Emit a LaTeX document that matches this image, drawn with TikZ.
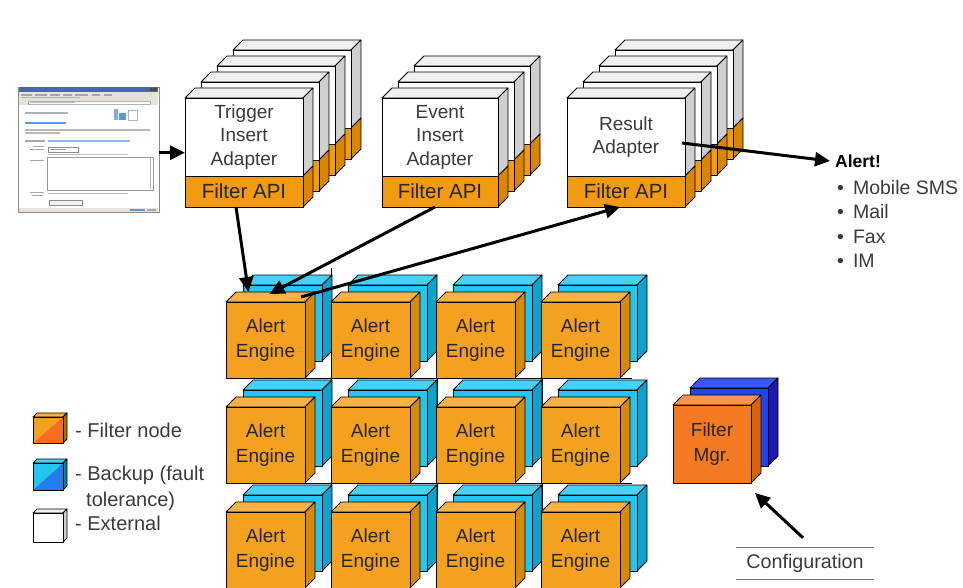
\documentclass[tikz,border=0pt]{standalone}
\usepackage{fontspec}
\setmainfont{Liberation Sans}
\usetikzlibrary{arrows.meta}

% palette
\definecolor{enfront}{HTML}{F4A11F}
\definecolor{entop}{HTML}{F7B245}
\definecolor{enside}{HTML}{D8890C}
\definecolor{bufront}{HTML}{22C6F0}
\definecolor{butop}{HTML}{45D2F6}
\definecolor{buside}{HTML}{0FA2CC}
\definecolor{fmfront}{HTML}{F47A22}
\definecolor{fmtop}{HTML}{F7944E}
\definecolor{fmside}{HTML}{D8620E}
\definecolor{fbfront}{HTML}{2244EE}
\definecolor{fbtop}{HTML}{3558FF}
\definecolor{fbside}{HTML}{1A1AB0}
\definecolor{adtop}{HTML}{F0F0F0}
\definecolor{adside}{HTML}{CFCFCF}
\definecolor{apifront}{HTML}{F29A10}
\definecolor{apiside}{HTML}{D88600}
\definecolor{txt}{HTML}{3A3A3A}
\definecolor{wintitle}{HTML}{4A68A8}
\definecolor{winbar}{HTML}{E4E2DA}
\definecolor{winlink}{HTML}{5A9AD8}

% a cube: top face, side face and a named front-face node
% #1 name, #2 x, #3 y (top left of the front face), #4 width, #5 height, #6 colour prefix, #7 text
\newcommand\cubeblock[7]{%
  \fill[#6top,draw=black,edge] (#2,#3) -- ++(10,-10) -- ++(#4,0) -- ++(-10,10) -- cycle;
  \fill[#6side,draw=black,edge] (#2+#4,#3) -- ++(10,-10) -- ++(0,#5) -- ++(-10,10) -- cycle;
  \node[facebox,fill=#6front,minimum width=#4pt,minimum height=#5pt] (#1) at (#2,#3) {#7};
}
% top and side faces of one adapter layer: #1 x, #2 y, #3 width
\newcommand\adfaces[3]{%
  \fill[adtop,draw=black,edge] (#1,#2) -- ++(10,-10) -- ++(#3,0) -- ++(-10,10) -- cycle;
  \fill[adside,draw=black,edge] (#1+#3,#2) -- ++(10,-10) -- ++(0,78) -- ++(-10,10) -- cycle;
  \fill[apiside,draw=black,edge] (#1+#3,#2+78) -- ++(10,-10) -- ++(0,31) -- ++(-10,10) -- cycle;
}
% a rear adapter layer of a stack
\newcommand\adlayer[3]{%
  \adfaces{#1}{#2}{#3}
  \filldraw[fill=white,edge] (#1,#2) rectangle ++(#3,78);
  \filldraw[fill=apifront,edge] (#1,#2+78) rectangle ++(#3,31);
}

\begin{document}
\begin{tikzpicture}[x=1pt,y=-1pt,
  edge/.style={line width=0.8pt,line join=round},
  facebox/.style={draw=black,edge,anchor=north west,inner sep=0pt,outer sep=0pt,
    align=center,text=black!85,font=\fontsize{19}{25}\selectfont},
  adbox/.style={facebox,fill=white,minimum height=78pt,text=txt,
    font=\fontsize{19}{23.5}\selectfont},
  apibox/.style={facebox,fill=apifront,minimum height=31pt,text=black!85,
    font=\fontsize{20.5}{24}\selectfont},
  label/.style={anchor=west,inner sep=0pt,text=txt,font=\fontsize{20}{26}\selectfont},
  flow/.style={-{Triangle[length=15pt,width=14pt]},line width=3pt,black},
  gridline/.style={line width=0.8pt,black}]
\useasboundingbox (0,0) rectangle (963,588);

% ---------- browser window ----------
\node[draw=black!45,fill=white,minimum width=141pt,minimum height=125pt,
  anchor=north west,inner sep=0pt] (shot) at (18,87) {};
\fill[wintitle] (18.5,87.5) rectangle (157.5,92);
\fill[black!70] (150,88) rectangle (157,91.5);
\fill[winbar] (18.5,92) rectangle (157.5,100);
\foreach \xa/\xb in {21/32,35/47,50/60,63/72,75/88,92/100,104/112}
  \fill[black!35] (\xa,94.5) rectangle (\xb,96);
\fill[black!30] (21,97.5) rectangle (80,98.5);
\fill[winbar] (18.5,100) rectangle (157.5,105);
\fill[white,draw=black!30,line width=0.3pt] (28,101) rectangle (150,104);
\fill[black!25] (30,102) rectangle (75,103);
\fill[black!30] (25,112.5) rectangle (68,114);
\fill[winlink!80] (114,109) rectangle (118,120);
\fill[winlink] (119,113) rectangle (126,120);
\draw[black!30,line width=0.4pt] (128,110) rectangle (137,120);
\fill[winlink] (25,122.5) rectangle (66,124.5);
\fill[black!28] (25,129.5) rectangle (150,130.7);
\fill[black!28] (25,132.5) rectangle (60,133.7);
\fill[black!35] (25,140.5) rectangle (45,141.7);
\fill[winlink!70] (48,140.5) rectangle (130,141.7);
\fill[black!35] (33,146.5) rectangle (44,147.5);
\fill[black!35] (30,149.5) rectangle (44,150.5);
\draw[black!45,line width=0.4pt] (48,147.5) rectangle (78,152);
\fill[black!40] (50,149.3) rectangle (66,150.3);
\draw[black!25,line width=0.4pt] (48,154) -- (128,154);
\fill[black!35] (30,160.5) rectangle (44,161.5);
\draw[black!40,line width=0.4pt] (47,157) rectangle (153,190);
\draw[black!30,line width=0.4pt] (150,158) -- (150,189);
\fill[black!35] (30,192.5) rectangle (44,193.5);
\fill[black!35] (32,195.5) rectangle (43,196.5);
\draw[black!25,line width=0.4pt] (48,193) -- (128,193);
\draw[black!45,fill=black!6,line width=0.4pt] (49,200.5) rectangle (82,205);
\fill[winbar] (18.5,207.5) rectangle (157.5,211.5);
\fill[winlink] (130,208.5) rectangle (145,210.5);
\fill[black!35] (147,208.5) rectangle (156,210.5);

% ---------- adapter stacks ----------
% Trigger Insert Adapter
\foreach \k in {3,2,1} {\adlayer{185+16*\k}{98-16*\k}{118}}
\adfaces{185}{98}{118}
\node[adbox,minimum width=118pt] (trig) at (185,98) {Trigger\\Insert\\Adapter};
\node[apibox,minimum width=118pt] (trigapi) at (185,176) {Filter API};

% Event Insert Adapter
\foreach \k in {2,1} {\adlayer{382+16*\k}{98-16*\k}{116}}
\adfaces{382}{98}{116}
\node[adbox,minimum width=116pt] (evt) at (382,98) {Event\\Insert\\Adapter};
\node[apibox,minimum width=116pt] (evtapi) at (382,176) {Filter API};

% Result Adapter
\foreach \k in {3,2,1} {\adlayer{567+16*\k}{98-16*\k}{118}}
\adfaces{567}{98}{118}
\node[adbox,minimum width=118pt] (res) at (567,98) {Result\\Adapter};
\node[apibox,minimum width=118pt] (resapi) at (567,176) {Filter API};

% ---------- alert engine grid ----------
\draw[gridline] (331,268) -- (331,588);
\draw[gridline] (437,378) -- (437,588);
\draw[gridline] (542,378) -- (542,588);
\draw[gridline] (226,378) -- (632,378);
\draw[gridline] (226,483) -- (632,483);
\foreach \r in {0,1,2} {
  \foreach \c in {0,1,2,3} {
    \pgfmathsetmacro\xx{226+105*\c}
    \pgfmathsetmacro\yy{302+105*\r}
    \cubeblock{bk\r\c}{\xx+17}{\yy-17}{79}{76}{bu}{}
    \cubeblock{e\r\c}{\xx}{\yy}{79}{76}{en}{Alert\\Engine}
  }
}

% ---------- filter manager ----------
\cubeblock{fmbk}{690}{388}{78}{78}{fb}{}
\cubeblock{fm}{673}{405}{78}{78}{fm}{Filter\\Mgr.}

% ---------- legend ----------
% filter node
\fill[entop,draw=black,edge] (33,417) -- ++(4,-4) -- ++(30,0) -- ++(-4,4) -- cycle;
\fill[enside!80!black,draw=black,edge] (63,417) -- ++(4,-4) -- ++(0,26) -- ++(-4,4) -- cycle;
\fill[enfront] (33,417) -- (63,417) -- (33,443) -- cycle;
\fill[fmfront!90!red] (63,417) -- (63,443) -- (33,443) -- cycle;
\draw[edge] (33,417) rectangle (63,443);
\node[label] (lgfilter) at (75,430) {- Filter node};
% backup
\fill[butop,draw=black,edge] (33,463) -- ++(4,-4) -- ++(30,0) -- ++(-4,4) -- cycle;
\fill[buside!80!black,draw=black,edge] (63,463) -- ++(4,-4) -- ++(0,27) -- ++(-4,4) -- cycle;
\fill[bufront] (33,463) -- (63,463) -- (33,490) -- cycle;
\fill[fbfront!55!bufront] (63,463) -- (63,490) -- (33,490) -- cycle;
\draw[edge] (33,463) rectangle (63,490);
\node[label] (lgbackup) at (75,475) {- Backup (fault};
\node[label] (lgtol) at (86,501) {tolerance)};
% external
\fill[adtop,draw=black,edge] (33,513) -- ++(4,-4) -- ++(30,0) -- ++(-4,4) -- cycle;
\fill[adside,draw=black,edge] (63,513) -- ++(4,-4) -- ++(0,29) -- ++(-4,4) -- cycle;
\filldraw[fill=white,edge] (33,513) rectangle (63,542);
\node[label] (lgext) at (75,523) {- External};

% ---------- alert outputs ----------
\node[label,text=black,font=\bfseries\fontsize{17.5}{24.5}\selectfont] (alert) at (835,161) {Alert!};
\node[label,align=left,font=\fontsize{19.5}{24.5}\selectfont] (outs) at (837,224)
  {•\hspace{9pt}Mobile SMS\\•\hspace{9pt}Mail\\•\hspace{9pt}Fax\\•\hspace{9pt}IM};

% ---------- configuration ----------
\node[inner sep=0pt,minimum width=137pt,minimum height=31pt,text=txt,
  font=\fontsize{19.7}{24}\selectfont] (cfg) at (805,563.5) {Configuration};
\draw[black!55,line width=0.8pt] (cfg.north west) -- (cfg.north east);
\draw[black!55,line width=0.8pt] (cfg.south west) -- (cfg.south east);

% ---------- connectors ----------
\draw[flow] ([yshift=-3pt]shot.east) -- ([yshift=-3pt]shot.east -| trig.west);
\draw[flow] ([xshift=-8pt]trigapi.south) -- ([xshift=-17pt,yshift=10pt]e00.north);
\draw[flow] ([xshift=-5pt]evtapi.south) -- ([xshift=4pt,yshift=8pt]e00.north);
\draw[flow] ([xshift=-4pt,yshift=5pt]e00.north east) -- ([xshift=-6pt]resapi.south);
\draw[flow] ([xshift=-3pt,yshift=-6pt]res.east) -- ([xshift=-5pt]alert.west);
\draw[flow] ([xshift=-2pt,yshift=10pt]cfg.north) -- ([xshift=4pt,yshift=-10pt]fm.south east);
\end{tikzpicture}
\end{document}
